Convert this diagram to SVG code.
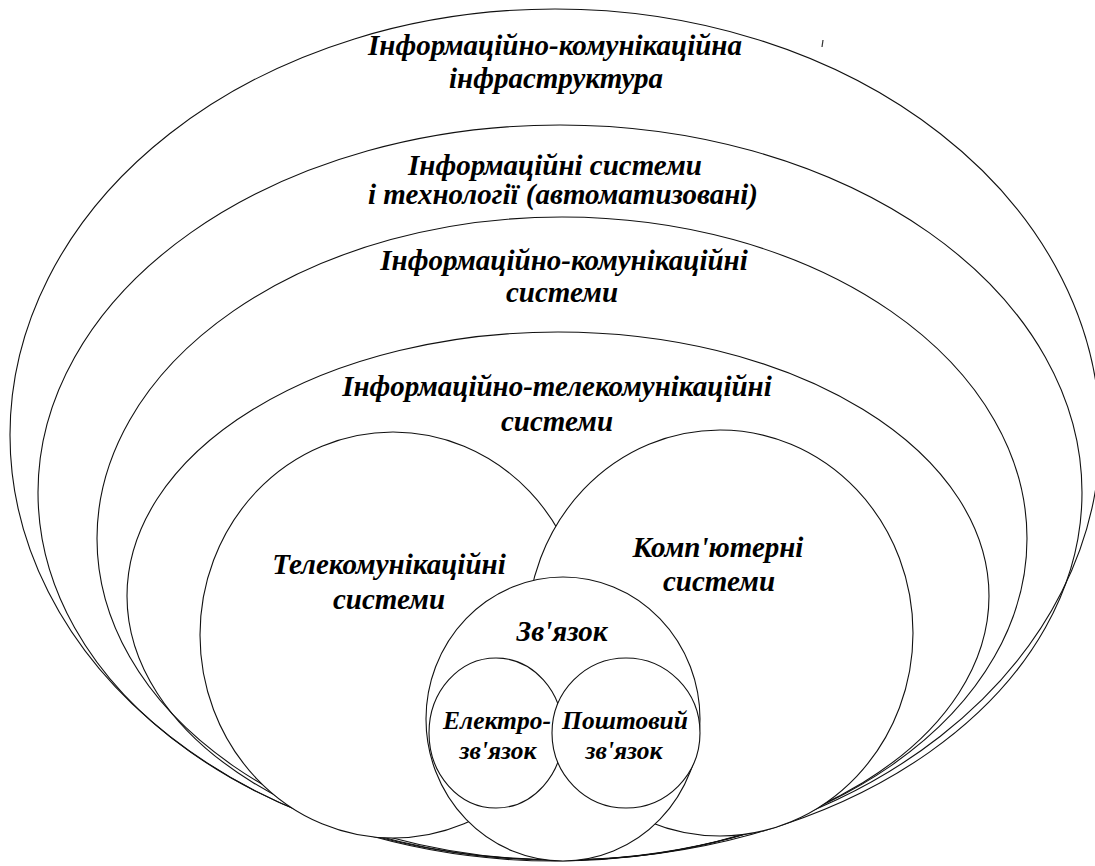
<svg xmlns="http://www.w3.org/2000/svg" width="1095" height="866" viewBox="0 0 1095 866">
<style>
.ring{fill:none;stroke:#111;stroke-width:1.1}
.sub{fill:#fff;stroke:#111;stroke-width:1.1}
.t{font-family:"Liberation Serif","Times New Roman",serif;font-weight:bold;font-style:italic;font-size:29px;fill:#000;text-anchor:middle}
.s{font-size:25.5px}
</style>
<rect width="1095" height="866" fill="#fff"/>
<g id="ict-infrastructure">
<ellipse class="ring" cx="555" cy="435" rx="545" ry="426"/>
<text class="t" x="555" y="55">Інформаційно-комунікаційна</text>
<text class="t" x="556" y="88">інфраструктура</text>
</g>
<g id="info-systems-tech">
<ellipse class="ring" cx="560" cy="492.5" rx="522" ry="367.5"/>
<text class="t" x="555" y="175">Інформаційні системи</text>
<text class="t" x="563" y="204">і технології (автоматизовані)</text>
</g>
<g id="info-comm-systems">
<ellipse class="ring" cx="562" cy="538.5" rx="465" ry="321.5"/>
<text class="t" x="564" y="270">Інформаційно-комунікаційні</text>
<text class="t" x="562" y="302">системи</text>
</g>
<g id="info-telecom-systems">
<ellipse class="ring" cx="558" cy="596" rx="431" ry="264"/>
<text class="t" x="557" y="396">Інформаційно-телекомунікаційні</text>
<text class="t" x="557" y="431">системи</text>
</g>
<g id="telecom-systems">
<ellipse class="sub" cx="393" cy="635" rx="193" ry="203"/>
<text class="t" x="389" y="574">Телекомунікаційні</text>
<text class="t" x="389" y="609">системи</text>
</g>
<g id="computer-systems">
<ellipse class="sub" cx="720" cy="633" rx="193" ry="203"/>
<text class="t" x="718" y="557">Комп'ютерні</text>
<text class="t" x="719" y="591">системи</text>
</g>
<g id="zviazok">
<ellipse class="sub" cx="563" cy="719" rx="137" ry="142"/>
<text class="t" x="562" y="641">Зв'язок</text>
</g>
<g id="electro">
<ellipse class="sub" cx="496" cy="733" rx="67" ry="75"/>
<text class="t s" x="497" y="729">Електро-</text>
<text class="t s" x="498" y="759">зв'язок</text>
</g>
<g id="post">
<ellipse class="sub" cx="626" cy="733" rx="74" ry="75"/>
<text class="t s" x="625" y="729">Поштовий</text>
<text class="t s" x="624" y="759">зв'язок</text>
</g>
<path d="M823 40 L822 47" stroke="#333" stroke-width="1.2" fill="none"/>
</svg>
